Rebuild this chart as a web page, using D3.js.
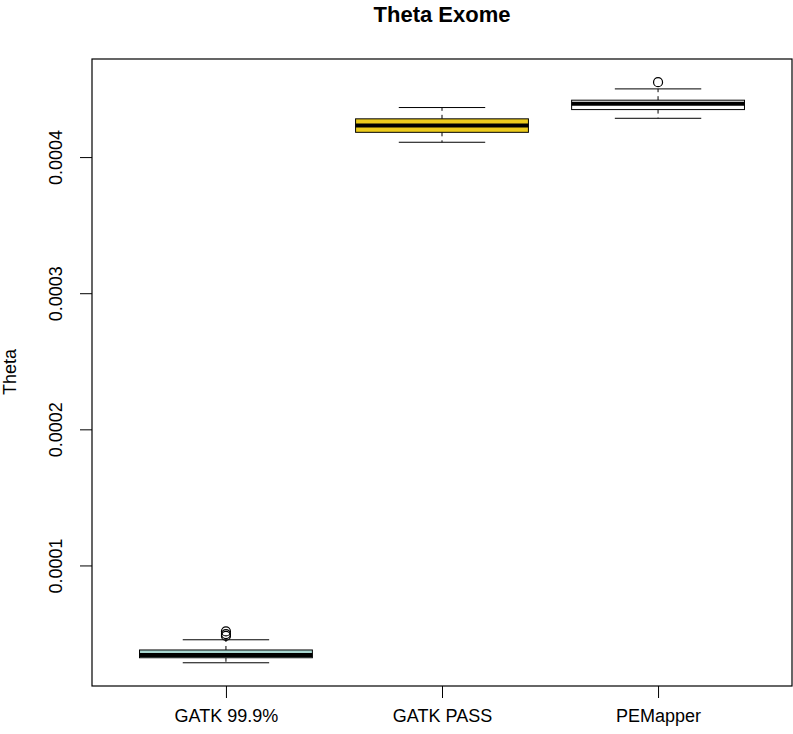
<!DOCTYPE html>
<html>
<head>
    <script src="https://cdnjs.cloudflare.com/ajax/libs/d3/7.8.5/d3.min.js"></script>
    <style>
      body { margin: 0; background: white; }
      text { font-family: "Liberation Sans", Arial, Helvetica, sans-serif; }
    </style>
</head>
<body>
    <svg width="793" height="734"></svg>
    <script>
      // box stats
      const categories = ["GATK 99.9%", "GATK PASS", "PEMapper"]
      const whiskerLow = [0.0000285, 0.0004109, 0.0004285]
      const q1 = [0.0000322, 0.0004182, 0.0004349]
      const median = [0.0000342, 0.0004232, 0.0004391]
      const q3 = [0.0000379, 0.0004281, 0.0004418]
      const whiskerHigh = [0.0000454, 0.0004364, 0.0004501]
      const outliers = [[0.0000515, 0.0000496, 0.0000482], [], [0.000455]]
      const fills = ["#a9d8d2", "#eccb1c", "#ffffff"]
      const yTicks = [0.0001, 0.0002, 0.0003, 0.0004]

      const svg = d3.select("svg")
      const mLeft = 92, mRight = 792, mTop = 59, mBottom = 686

      // R-style 4% padding on the data range
      const allVals = whiskerLow.concat(whiskerHigh, outliers.flat())
      const lo = d3.min(allVals), hi = d3.max(allVals)
      const pad = (hi - lo) * 0.04
      const y = d3.scaleLinear().domain([lo - pad, hi + pad]).range([mBottom, mTop])
      const x = d3.scaleLinear().domain([0.38, 3.62]).range([mLeft, mRight])
      const unit = x(1) - x(0)
      const boxW = unit * 0.8

      const data = categories.map((c, i) => ({
        name: c, pos: i + 1, lo: whiskerLow[i], q1: q1[i], med: median[i],
        q3: q3[i], hi: whiskerHigh[i], out: outliers[i], fill: fills[i]
      }))

      const g = svg.selectAll("g.box").data(data).enter().append("g").attr("class", "box")

      // whiskers
      g.append("line")
        .attr("x1", d => x(d.pos)).attr("x2", d => x(d.pos))
        .attr("y1", d => y(d.q3)).attr("y2", d => y(d.hi))
        .attr("stroke", "#000").attr("stroke-dasharray", "4,4")
      g.append("line")
        .attr("x1", d => x(d.pos)).attr("x2", d => x(d.pos))
        .attr("y1", d => y(d.q1)).attr("y2", d => y(d.lo))
        .attr("stroke", "#000").attr("stroke-dasharray", "4,4")
      // staples
      ;["hi", "lo"].forEach(k => {
        g.append("line")
          .attr("x1", d => x(d.pos) - boxW / 4).attr("x2", d => x(d.pos) + boxW / 4)
          .attr("y1", d => y(d[k])).attr("y2", d => y(d[k]))
          .attr("stroke", "#000").attr("stroke-width", 1)
      })
      // box
      g.append("rect")
        .attr("x", d => x(d.pos) - boxW / 2).attr("width", boxW)
        .attr("y", d => y(d.q3)).attr("height", d => y(d.q1) - y(d.q3))
        .attr("fill", d => d.fill).attr("stroke", "#000").attr("stroke-width", 1)
      // median
      g.append("line")
        .attr("x1", d => x(d.pos) - boxW / 2).attr("x2", d => x(d.pos) + boxW / 2)
        .attr("y1", d => y(d.med)).attr("y2", d => y(d.med))
        .attr("stroke", "#000").attr("stroke-width", 4)
      // outliers
      g.selectAll("circle").data(d => d.out.map(v => ({ pos: d.pos, v: v }))).enter()
        .append("circle")
        .attr("cx", d => x(d.pos)).attr("cy", d => y(d.v)).attr("r", 4.5)
        .attr("fill", "none").attr("stroke", "#000").attr("stroke-width", 1.2)

      // frame
      svg.append("rect").attr("x", mLeft).attr("y", mTop)
        .attr("width", mRight - mLeft).attr("height", mBottom - mTop)
        .attr("fill", "none").attr("stroke", "#000").attr("stroke-width", 1.2)

      // y axis, labels parallel to the axis like R
      const yAxis = svg.append("g").attr("transform", `translate(${mLeft},0)`)
        .call(d3.axisLeft(y).tickValues(yTicks).tickSize(12).tickFormat(d3.format(".4f")))
      yAxis.select(".domain").remove()
      yAxis.selectAll("line").attr("stroke", "#000")
      yAxis.selectAll(".tick text")
        .attr("x", 0).attr("y", 0).attr("dy", "0.35em")
        .attr("transform", "translate(-36,0) rotate(-90)")
        .attr("text-anchor", "middle").attr("font-size", 18).attr("fill", "#000")
        .style("font-family", "Liberation Sans, Arial, sans-serif")

      // x axis
      const xAxis = svg.append("g").attr("transform", `translate(0,${mBottom})`)
        .call(d3.axisBottom(x).tickValues([1, 2, 3]).tickSize(12)
          .tickFormat(d => categories[d - 1]))
      xAxis.select(".domain").remove()
      xAxis.selectAll("line").attr("stroke", "#000")
      xAxis.selectAll("text").attr("y", 23).attr("font-size", 18).attr("fill", "#000")
        .style("font-family", "Liberation Sans, Arial, sans-serif")

      // titles
      svg.append("text").attr("x", (mLeft + mRight) / 2).attr("y", 22)
        .attr("text-anchor", "middle").attr("font-size", 22).attr("font-weight", "bold")
        .text("Theta Exome")
      svg.append("text").attr("transform", "translate(16,372) rotate(-90)")
        .attr("text-anchor", "middle").attr("font-size", 18)
        .text("Theta")
    </script>
</body>
</html>
